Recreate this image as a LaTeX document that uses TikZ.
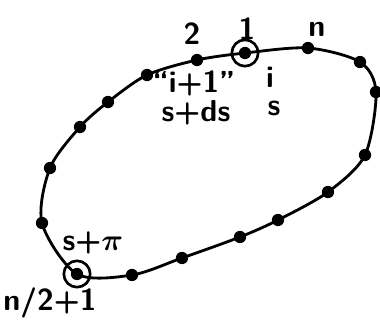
\documentclass[tikz,border=0pt]{standalone}
\usepackage{amsmath}
\begin{document}
\begin{tikzpicture}[
  x=0.02cm, y=-0.02cm,
  dot/.style={circle, fill=black, inner sep=0pt, minimum size=7pt},
  ring/.style={circle, draw=black, line width=1.5pt, inner sep=0pt, minimum size=15pt},
  curve/.style={line width=1.6pt},
  every node/.style={font=\LARGE\sffamily\bfseries, inner sep=0pt}
]
\useasboundingbox (0,0) rectangle (380,332);

% ==========================================================
% Pontos sobre a curva (em pixels)
% ==========================================================
\foreach \x/\y/\nome in {245/53/p1, 308/48/pn, 360/62/pa, 376/92/pb,
  365/155/pc, 328/192/pd, 278/220/pe, 240/237/pf, 182/258/pg,
  132/275/ph, 77/274/pm, 42/223/pi, 50/168/pj, 80/127/pk,
  108/102/pl, 147/75/po, 197/60/p2}{
  \node[dot] (\nome) at (\x,\y) {};
}

% curva fechada passando pelos pontos
\draw[curve] plot[smooth cycle] coordinates {
  (p1.center) (pn.center) (pa.center) (pb.center) (pc.center)
  (pd.center) (pe.center) (pf.center) (pg.center) (ph.center)
  (pm.center) (pi.center) (pj.center) (pk.center) (pl.center)
  (po.center) (p2.center)
};

% pontos destacados
\node[ring] (r1) at (p1) {};
\node[ring] (rm) at (pm) {};

% ==========================================================
% Rótulos
% ==========================================================
\node (lab2) at (192,34) {2};
\node (lab1) at (247,29) {1};
\node (labn) at (317,29) {n};
\node (labi1) at (194,83) {``i+1''};
\node (labsds) at (196,113) {s+ds};
\node (labi) at (270,77) {i};
\node (labs) at (274,108) {s};
\node (labspi) at (93,243) {s+$\boldsymbol{\pi}$};
\node (labm) at (50,303) {n/2+1};

\end{tikzpicture}
\end{document}
